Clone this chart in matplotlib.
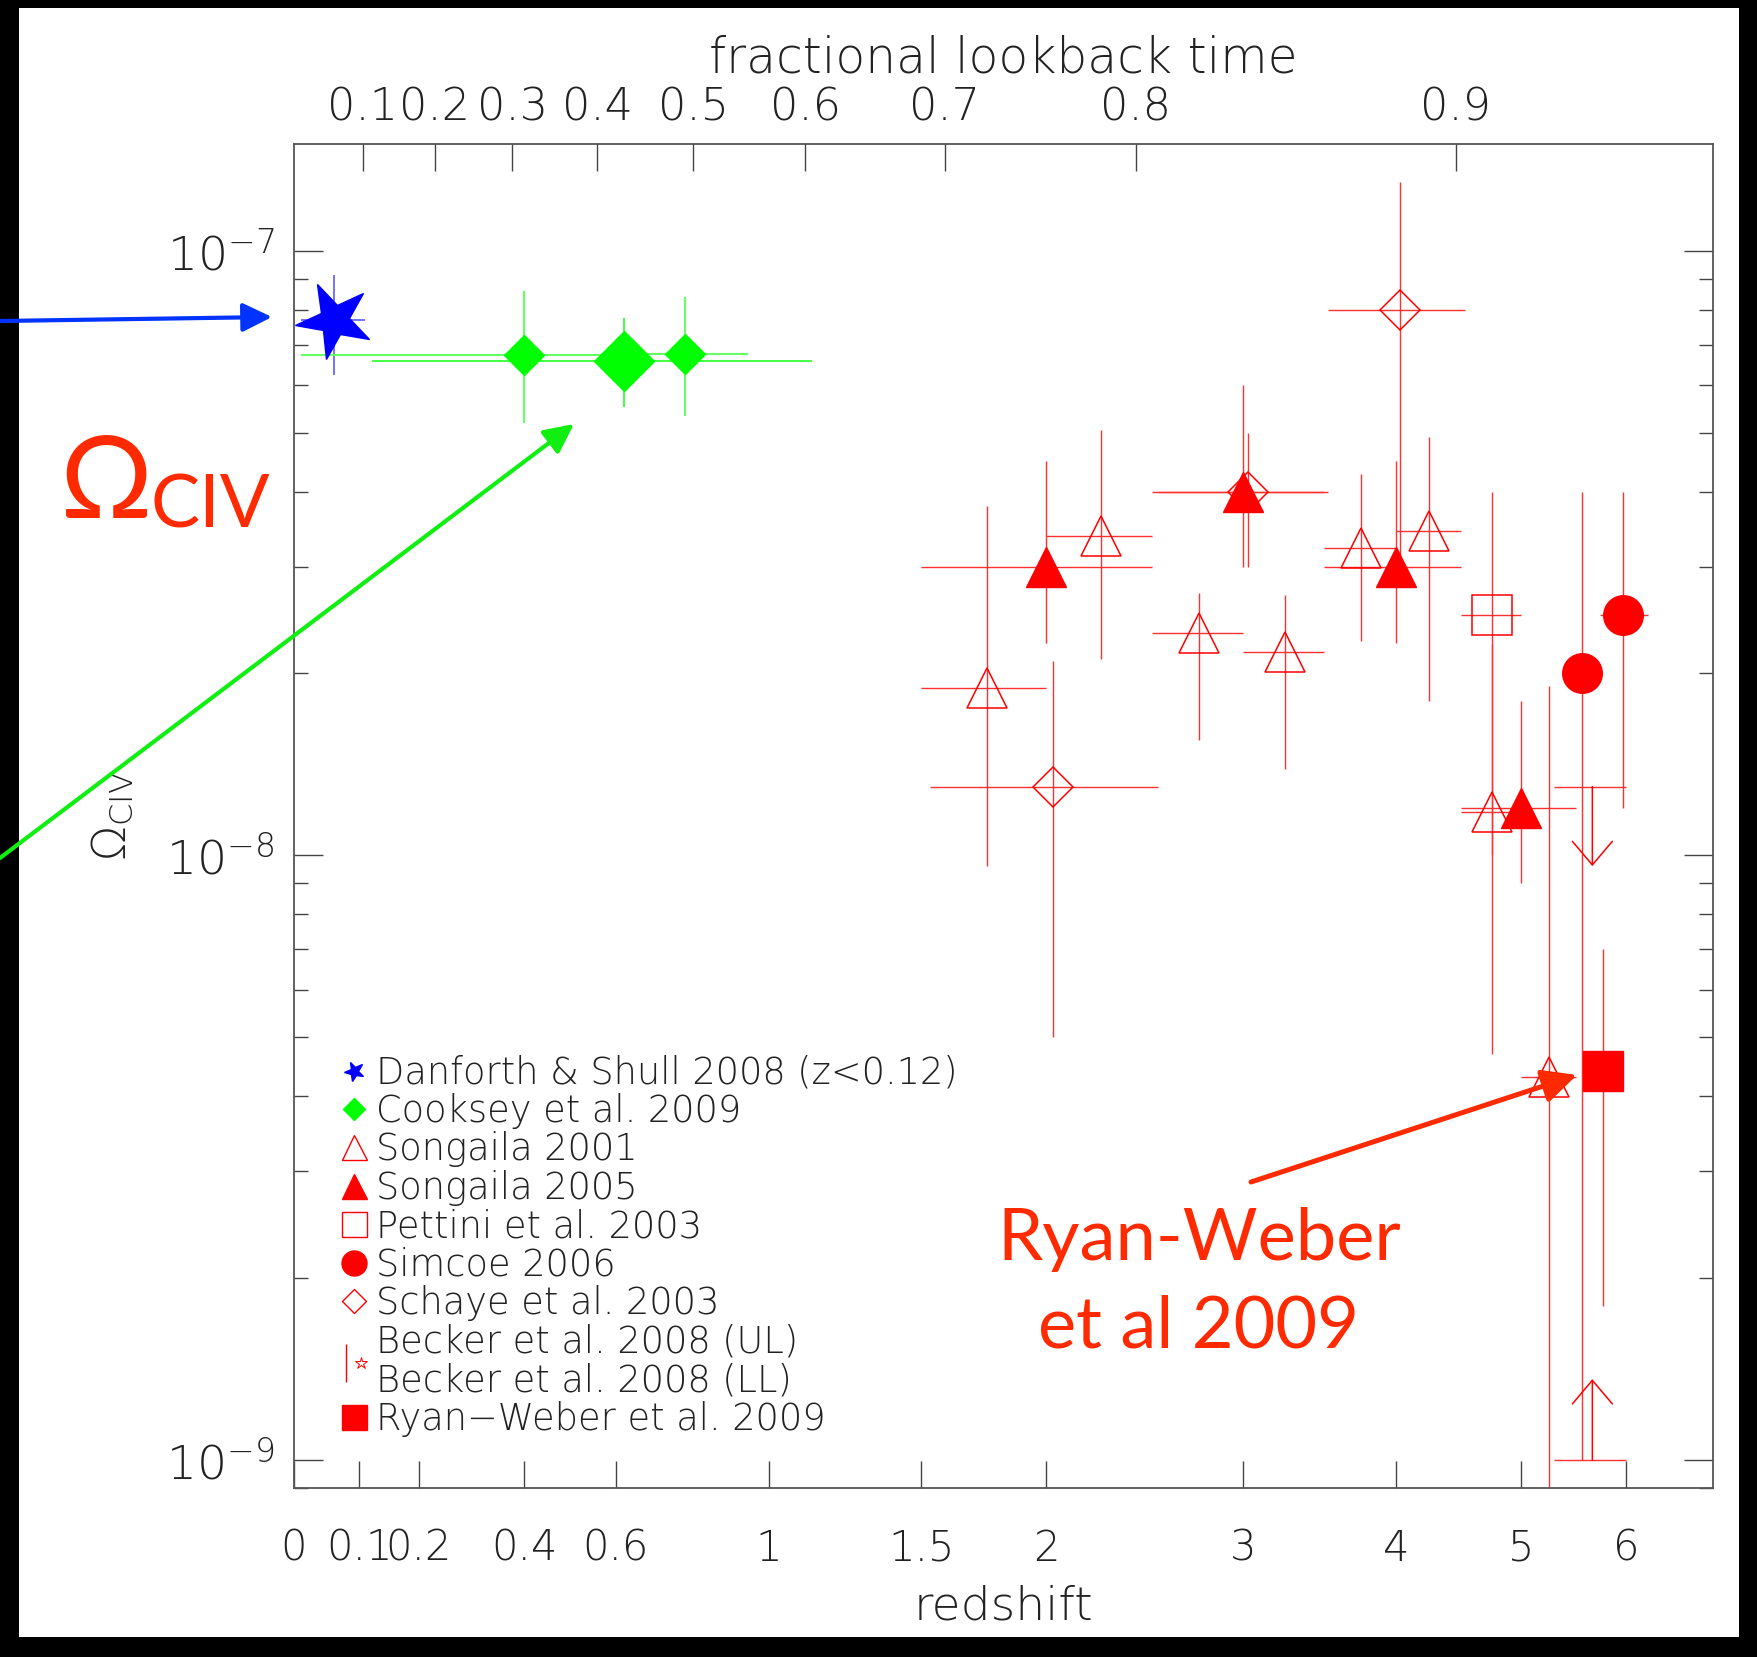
import numpy as np
import matplotlib
matplotlib.use('Agg')
import matplotlib.pyplot as plt
from matplotlib.lines import Line2D
from matplotlib.markers import MarkerStyle
from matplotlib.patches import Rectangle, FancyArrowPatch
from matplotlib.transforms import Affine2D
from matplotlib.legend_handler import HandlerTuple
from matplotlib.ticker import FixedLocator, LogLocator, NullLocator, NullFormatter, FuncFormatter

W, H, DPI = 1758, 1657, 100
plt.rcParams['font.family'] = ['DejaVu Sans']
plt.rcParams['font.weight'] = 'light'
plt.rcParams['axes.labelweight'] = 'light'
plt.rcParams['mathtext.default'] = 'regular'

# ---- data: redshift (with bin edges z1..z2) and Omega_CIV (with lo..hi) ----
ds_z, ds_z1, ds_z2 = [0.06], [0.01], [0.11]
ds_om, ds_lo, ds_hi = [7.7e-8], [6.24e-8], [9.13e-8]

ck_z, ck_z1, ck_z2 = [0.40, 0.77], [0.01, 0.61], [0.61, 0.94]
ck_om, ck_lo, ck_hi = [6.73e-8, 6.76e-8], [5.19e-8, 5.34e-8], [8.59e-8, 8.40e-8]
cka_z, cka_z1, cka_z2 = [0.62], [0.12], [1.13]
cka_om, cka_lo, cka_hi = [6.58e-8], [5.51e-8], [7.74e-8]

s01_z = [1.75, 2.25, 2.75, 3.25, 3.75, 4.25, 4.75, 5.25]
s01_z1 = [1.5, 2.0, 2.5, 3.0, 3.5, 4.0, 4.5, 5.0]
s01_z2 = [2.0, 2.5, 3.0, 3.5, 4.0, 4.5, 5.0, 5.5]
s01_om = [1.89e-8, 3.38e-8, 2.33e-8, 2.17e-8, 3.23e-8, 3.44e-8, 1.18e-8, 4.3e-9]
s01_lo = [9.6e-9, 2.11e-8, 1.55e-8, 1.39e-8, 2.26e-8, 1.80e-8, 1.0e-8, 1e-10]
s01_hi = [3.78e-8, 5.06e-8, 2.72e-8, 2.70e-8, 4.28e-8, 4.92e-8, 2.24e-8, 1.91e-8]

s05_z, s05_z1, s05_z2 = [2.0, 3.0, 4.0, 5.0], [1.5, 2.5, 3.5, 4.5], [2.5, 3.5, 4.5, 5.5]
s05_om = [3.0e-8, 4.0e-8, 3.0e-8, 1.2e-8]
s05_lo = [2.25e-8, 3.0e-8, 2.25e-8, 9.0e-9]
s05_hi = [4.5e-8, 6.0e-8, 4.5e-8, 1.8e-8]

pe_z, pe_z1, pe_z2 = [4.75], [4.5], [5.0]
pe_om, pe_lo, pe_hi = [2.5e-8], [4.7e-9], [4.0e-8]

si_z, si_z1, si_z2 = [5.56, 5.97], [5.56, 5.73], [5.56, 6.22]
si_om, si_lo, si_hi = [2.0e-8, 2.5e-8], [1.0e-9, 1.2e-8], [4.0e-8, 4.0e-8]

sc_z, sc_z1, sc_z2 = [2.03, 3.03, 4.03], [1.53, 2.53, 3.53], [2.53, 3.53, 4.53]
sc_om, sc_lo, sc_hi = [1.3e-8, 4.0e-8, 8.0e-8], [5.0e-9, 3.0e-8, 3.0e-8], [2.1e-8, 5.0e-8, 1.3e-7]

bul_z, bul_z1, bul_z2, bul_om, bul_tip = [5.66], [5.3], [6.0], [1.3e-8], [9.6e-9]
bll_z, bll_z1, bll_z2, bll_om, bll_tip = [5.66], [5.3], [6.0], [1.0e-9], [1.36e-9]

rw_z, rw_om, rw_lo, rw_hi = [5.76], [4.4e-9], [1.8e-9], [7.0e-9]

z_ticks = [0, 0.1, 0.2, 0.4, 0.6, 1, 1.5, 2, 3, 4, 5, 6]
z_labels = ['0', '0.1', '0.2', '0.4', '0.6', '1', '1.5', '2', '3', '4', '5', '6']
lb_ticks = [0.1, 0.2, 0.3, 0.4, 0.5, 0.6, 0.7, 0.8, 0.9]

# flat LCDM for the lookback-time axis
OM = 0.285
A = np.sqrt((1 - OM) / OM)


def lookback_inv(f):
    f = np.asarray(f, float)
    return (A / np.sinh((1 - f) * np.arcsinh(A)))**(2 / 3) - 1


def fwd(z):
    return np.log10(1 + np.clip(z, -0.999, None))


def inv(u):
    return 10**u - 1


def bars(ax, z, z1, z2, om, lo, hi, **kw):
    z, om = np.array(z), np.array(om)
    xerr = [z - np.array(z1), np.array(z2) - z]
    yerr = [om - np.array(lo), np.array(hi) - om]
    return ax.errorbar(z, om, xerr=xerr, yerr=yerr, capsize=0, ls='none', **kw)


def fig_xy(x, y):
    return (x / W, 1 - y / H)


fig = plt.figure(figsize=(W / DPI, H / DPI), dpi=DPI, facecolor='black')
fig.add_artist(Rectangle(fig_xy(19, 1637), 1720 / W, 1629 / H, transform=fig.transFigure,
                         facecolor='white', edgecolor='none', zorder=-10))
ax = fig.add_axes([294 / W, 1 - 1487.5 / H, 1419 / W, 1344 / H])
ax.set_xscale('function', functions=(fwd, inv))
ax.set_yscale('log')
ax.set_xlim(0, 10**0.9 - 1)
ax.set_ylim(9.0e-10, 1.506e-7)

red_err = dict(ecolor='#ff3030', elinewidth=1.0)
star = MarkerStyle('*', transform=Affine2D().rotate_deg(25))
bars(ax, ds_z, ds_z1, ds_z2, ds_om, ds_lo, ds_hi, marker=star, ms=57, color='#0000ff',
     mec='#0000ff', ecolor='#5a5aff', elinewidth=1.2)
bars(ax, ck_z, ck_z1, ck_z2, ck_om, ck_lo, ck_hi, marker='D', ms=20.5, color='#00ff00',
     mec='#00ff00', ecolor='#66ff66', elinewidth=1.5)
bars(ax, cka_z, cka_z1, cka_z2, cka_om, cka_lo, cka_hi, marker='D', ms=30.5, color='#00ff00',
     mec='#00ff00', ecolor='#33ff33', elinewidth=1.3)
bars(ax, s01_z, s01_z1, s01_z2, s01_om, s01_lo, s01_hi, marker='^', ms=28.5, mfc='none',
     mec='red', mew=1.1, **red_err)
bars(ax, s05_z, s05_z1, s05_z2, s05_om, s05_lo, s05_hi, marker='^', ms=28.5, color='red',
     mec='red', **red_err)
bars(ax, pe_z, pe_z1, pe_z2, pe_om, pe_lo, pe_hi, marker='s', ms=29, mfc='none',
     mec='red', mew=1.1, **red_err)
bars(ax, si_z, si_z1, si_z2, si_om, si_lo, si_hi, marker='o', ms=28.5, color='red',
     mec='red', **red_err)
bars(ax, sc_z, sc_z1, sc_z2, sc_om, sc_lo, sc_hi, marker='D', ms=20, mfc='none',
     mec='red', mew=1.1, **red_err)
for z, z1, z2, om, tip in [(bul_z, bul_z1, bul_z2, bul_om, bul_tip),
                           (bll_z, bll_z1, bll_z2, bll_om, bll_tip)]:
    z = np.array(z)
    ax.errorbar(z, om, xerr=[z - np.array(z1), np.array(z2) - z], fmt='none', capsize=0,
                **red_err)
    for zi, oi, ti in zip(z, om, tip):
        ax.annotate('', xy=(zi, ti), xytext=(zi, oi),
                    arrowprops=dict(arrowstyle='->,head_length=0.85,head_width=0.72',
                                    mutation_scale=20, color='red', lw=1.1,
                                    shrinkA=0, shrinkB=0))
rw = np.array(rw_om)
ax.errorbar(rw_z, rw_om, yerr=[rw - np.array(rw_lo), np.array(rw_hi) - rw], marker='s',
            ms=29.5, color='red', mec='red', ls='none', capsize=0, **red_err)

# axes styling
for sp in ax.spines.values():
    sp.set_color('#555555')
    sp.set_linewidth(1.3)
ax.xaxis.set_major_locator(FixedLocator(z_ticks))
ax.set_xticklabels(z_labels)
ax.xaxis.set_minor_locator(NullLocator())
ax.tick_params(axis='x', which='major', direction='in', length=19.4, width=1.0,
               color='#444444', top=False, labelsize=30, pad=29, labelcolor='#222222')
ax.yaxis.set_major_locator(LogLocator(base=10, numticks=10))
ax.yaxis.set_minor_locator(LogLocator(base=10, subs=np.arange(2, 10), numticks=20))
ax.yaxis.set_minor_formatter(NullFormatter())
ax.yaxis.set_major_formatter(FuncFormatter(lambda v, p: r'$10^{%d}$' % round(np.log10(v))))
ax.tick_params(axis='y', which='major', direction='in', length=20.7, width=1.0,
               color='#444444', left=True, right=True, labelsize=34, pad=14,
               labelcolor='#222222')
ax.tick_params(axis='y', which='minor', direction='in', length=10.3, width=1.0,
               color='#444444', left=True, right=True)
ax.set_xlabel('redshift', fontsize=34, labelpad=11, color='#222222')
ax.set_ylabel(r'$\Omega_{CIV}$', fontsize=33, color='#222222')
ax.yaxis.set_label_coords(-0.112, 0.5)

top = ax.twiny()
top.set_xscale('function', functions=(fwd, inv))
top.set_xlim(ax.get_xlim())
top.xaxis.set_major_locator(FixedLocator(lookback_inv(lb_ticks)))
top.set_xticklabels(['%.1f' % f for f in lb_ticks])
top.xaxis.set_minor_locator(NullLocator())
top.tick_params(axis='x', direction='in', length=19.4, width=1.0, color='#444444',
                labelsize=32, pad=10, labelcolor='#222222')
top.set_xlabel('fractional lookback time', fontsize=35, labelpad=10, color='#222222')
for sp in top.spines.values():
    sp.set_visible(False)

# legend
handles = [
    Line2D([], [], ls='none', marker=star, ms=15, color='#0000ff'),
    Line2D([], [], ls='none', marker='D', ms=11.7, color='#00ff00'),
    Line2D([], [], ls='none', marker='^', ms=18, mfc='none', mec='red', mew=1.0),
    Line2D([], [], ls='none', marker='^', ms=18, color='red'),
    Line2D([], [], ls='none', marker='s', ms=18, mfc='none', mec='red', mew=1.0),
    Line2D([], [], ls='none', marker='o', ms=18, color='red'),
    Line2D([], [], ls='none', marker='D', ms=12.7, mfc='none', mec='red', mew=1.0),
    (Line2D([], [], ls='none', marker='|', ms=27, mec='red', mew=1.0),
     Line2D([], [], ls='none', marker='*', ms=9, mfc='none', mec='red', mew=0.7)),
    Line2D([], [], ls='none', marker='s', ms=18, color='red'),
]
labels = ['Danforth & Shull 2008 (z<0.12)', 'Cooksey et al. 2009', 'Songaila 2001',
          'Songaila 2005', 'Pettini et al. 2003', 'Simcoe 2006', 'Schaye et al. 2003',
          'Becker et al. 2008 (UL)\nBecker et al. 2008 (LL)',
          'Ryan\u2212Weber et al. 2009']
leg = ax.legend(handles, labels, loc='lower left', bbox_to_anchor=(0.0318, 0.0375),
                frameon=False, fontsize=26.5, handlelength=0.8, handletextpad=0.21,
                labelspacing=0.065, borderpad=0, borderaxespad=0,
                handler_map={tuple: HandlerTuple(ndivide=None)})
for t in leg.get_texts():
    t.set_color('#222222')
    t.set_linespacing(1.12)

# annotations outside / over the axes
red = '#ff2a00'
for tail, head, col, lw, ms in [((0, 321), (272, 317), '#0033ff', 3.0, 40),
                                ((0, 858), (574, 424), '#11ee11', 3.0, 40),
                                ((1251, 1182), (1577, 1075), red, 3.6, 46)]:
    fig.add_artist(FancyArrowPatch(fig_xy(*tail), fig_xy(*head), transform=fig.transFigure,
                                   arrowstyle='-|>,head_length=0.45,head_width=0.22',
                                   mutation_scale=ms, color=col, lw=lw, zorder=10,
                                   shrinkA=0, shrinkB=0))
fig.text(*fig_xy(60, 518), '\u03a9', fontsize=83, color=red, family=['Lato', 'DejaVu Sans'],
         weight='normal', ha='left', va='baseline', zorder=10)
fig.text(*fig_xy(150, 527), 'CIV', fontsize=53, color=red, family=['Lato', 'DejaVu Sans'],
         weight='normal', ha='left', va='baseline', zorder=10)
fig.text(*fig_xy(1199, 1260), 'Ryan-Weber', fontsize=52, color=red,
         family=['Lato', 'DejaVu Sans'], weight='normal', ha='center', va='baseline', zorder=10)
fig.text(*fig_xy(1199, 1348), 'et al 2009', fontsize=52, color=red,
         family=['Lato', 'DejaVu Sans'], weight='normal', ha='center', va='baseline', zorder=10)

fig.savefig('out.png', dpi=DPI)
